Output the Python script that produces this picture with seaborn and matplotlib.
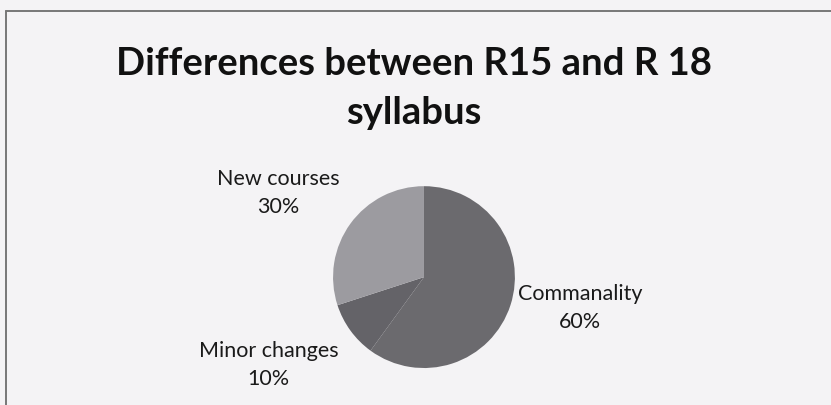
import numpy as np
import pandas as pd
import matplotlib
matplotlib.use('Agg')
import matplotlib.pyplot as plt
import seaborn as sns
from matplotlib.lines import Line2D

# data
categories = ['Commanality', 'Minor changes', 'New courses']
shares = [60, 10, 30]
colors = ['#6b6a6e', '#646368', '#9c9ba0']

# label positions (pie radius units)
label_pos = {'Commanality': (1.72, -0.34),
             'Minor changes': (-1.71, -0.97),
             'New courses': (-1.60, 0.92)}

sns.set_theme(style='white')
plt.rcParams['font.family'] = ['Lato', 'DejaVu Sans']

bg = '#f4f3f5'
fig = plt.figure(figsize=(8.31, 4.05), dpi=100, facecolor=bg)

# frame like the scanned chart border
fig.add_artist(Line2D([0.0072, 0.0072], [0, 0.973], color='#777777', lw=1.4))
fig.add_artist(Line2D([0.0072, 1.0], [0.973, 0.973], color='#777777', lw=1.4))

fig.text(0.498, 0.842, 'Differences between R15 and R 18', ha='center', va='center',
         fontsize=27.5, fontweight='bold', color='#111111')
fig.text(0.498, 0.722, 'syllabus', ha='center', va='center',
         fontsize=27.5, fontweight='bold', color='#111111')

ax = fig.add_axes([0.4007, 0.0913, 0.219, 0.449])
ax.set_facecolor(bg)
ax.pie(shares, colors=colors, startangle=90, counterclock=False,
       wedgeprops=dict(linewidth=0), radius=1)
ax.set_xlim(-1, 1)
ax.set_ylim(-1, 1)
ax.set_aspect('equal')
ax.axis('off')

for cat, val in zip(categories, shares):
    x, y = label_pos[cat]
    ax.text(x, y, f'{cat}\n{val}%', ha='center', va='center', fontsize=15.5,
            color='#1a1a1a', linespacing=1.5, clip_on=False)

fig.savefig('out.png', dpi=100, facecolor=bg)
